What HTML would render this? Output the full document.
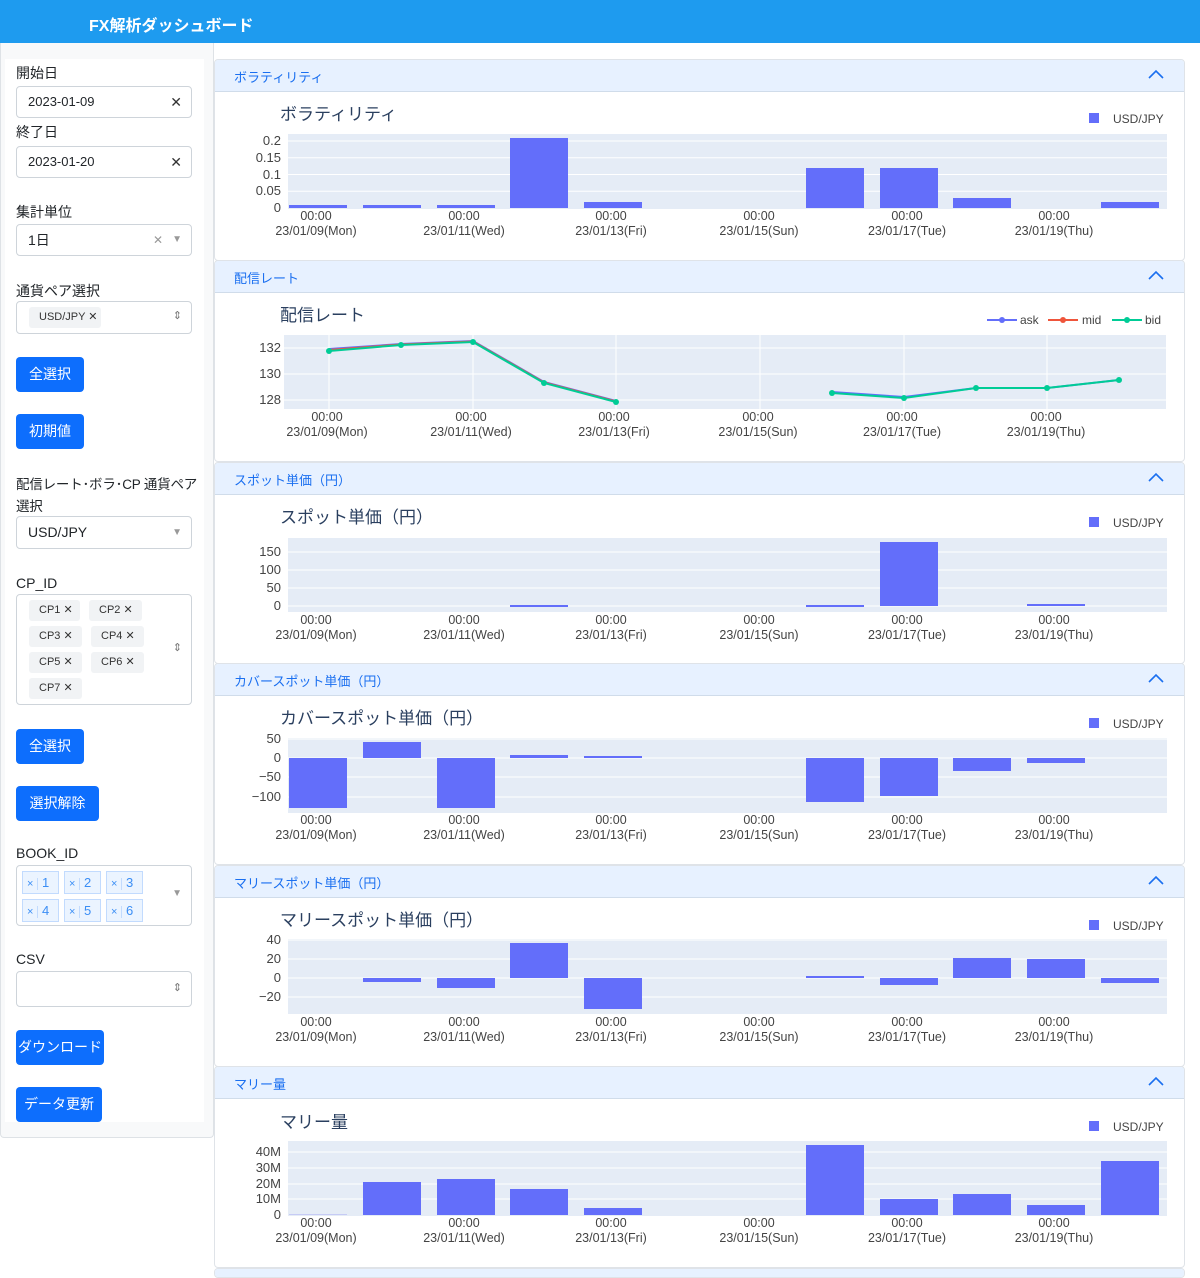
<!DOCTYPE html>
<html style="width:1200px;height:1278px;overflow:hidden"><head><meta charset="utf-8">
<style>
*{box-sizing:border-box;margin:0;padding:0}
body{width:1200px;height:1278px;position:relative;background:#fff;font-family:"Liberation Sans","Noto Sans CJK JP",sans-serif;overflow:hidden;color:#212529}
.hdr{position:absolute;left:0;top:0;width:1200px;height:43px;background:#1e9bef;color:#fff;font-size:16px;font-weight:bold;padding:12px 0 0 89px}
.side{position:absolute;left:0;top:43px;width:214px;height:1095px;background:#f8f9fa;border:1px solid #dee2e6;border-top:none;border-radius:0 0 4px 4px}
.sin{position:absolute;left:4px;top:16px;width:199px;height:1063px;background:#fff}
.lbl{position:absolute;left:16px;font-size:14px;color:#212529}
.inp{position:absolute;left:16px;width:176px;border:1px solid #ced4da;border-radius:4px;background:#fff;font-size:13px;padding-left:11px}
.x{position:absolute;right:9px;color:#333;font-size:14px}
.btn{position:absolute;left:16px;height:35px;background:#0d6efd;color:#fff;border-radius:4px;font-size:14px;text-align:center;line-height:35px}
.tag{position:absolute;height:21px;background:#f1f3f5;border-radius:3px;font-size:11px;line-height:21px;padding-left:10px;color:#333}
.bk{position:absolute;height:23px;border:1px solid #c2dbfe;background:#ebf4ff;color:#3b8ef5;font-size:13px;line-height:21px}
.card{position:absolute;left:214px;width:971px;height:202px;border:1px solid #dfe3e8;border-radius:4px;background:#fff;overflow:hidden}
.ch{height:32px;background:#e7f1ff;border-bottom:1px solid #d0dcea;color:#1a6ff0;font-size:13px;padding:7px 0 0 19px;position:relative}
.ch svg{position:absolute;right:20px;top:9px}
.card>svg{position:absolute;left:0;top:31px}
text{font-family:"Liberation Sans","Noto Sans CJK JP",sans-serif}
</style></head><body>
<div class="hdr">FX解析ダッシュボード</div>
<div class="side"><div class="sin"></div></div>

<div class="lbl" style="top:63px">開始日</div>
<div class="inp" style="top:86px;height:32px;line-height:30px">2023-01-09<span class="x">✕</span></div>
<div class="lbl" style="top:122px">終了日</div>
<div class="inp" style="top:146px;height:32px;line-height:30px">2023-01-20<span class="x">✕</span></div>
<div class="lbl" style="top:202px">集計単位</div>
<div class="inp" style="top:224px;height:32px;line-height:30px;font-size:14px">1日<span class="x" style="right:28px;color:#999;font-size:12px">✕</span><span class="x" style="color:#999;font-size:10px">▼</span></div>
<div class="lbl" style="top:281px">通貨ペア選択</div>
<div class="inp" style="top:301px;height:33px"><div class="tag" style="left:12px;top:5px;width:72px">USD/JPY ✕</div><span class="x" style="top:7px;color:#777;font-size:11px">⇕</span></div>
<div class="btn" style="top:357px;width:68px">全選択</div>
<div class="btn" style="top:414px;width:68px">初期値</div>
<div class="lbl" style="top:474px;line-height:22px;width:190px;font-size:13.5px;white-space:nowrap;letter-spacing:-0.2px">配信レート･ボラ･CP 通貨ペア<br>選択</div>
<div class="inp" style="top:516px;height:33px;line-height:31px;font-size:14px">USD/JPY<span class="x" style="color:#999;font-size:10px">▼</span></div>
<div class="lbl" style="top:575px">CP_ID</div>
<div class="inp" style="top:594px;height:111px">
<div class="tag" style="left:12px;top:5px;width:51px">CP1 ✕</div><div class="tag" style="left:72px;top:5px;width:53px">CP2 ✕</div>
<div class="tag" style="left:12px;top:31px;width:53px">CP3 ✕</div><div class="tag" style="left:74px;top:31px;width:53px">CP4 ✕</div>
<div class="tag" style="left:12px;top:57px;width:53px">CP5 ✕</div><div class="tag" style="left:74px;top:57px;width:53px">CP6 ✕</div>
<div class="tag" style="left:12px;top:83px;width:53px">CP7 ✕</div>
<span class="x" style="top:46px;color:#777;font-size:11px">⇕</span></div>
<div class="btn" style="top:729px;width:68px">全選択</div>
<div class="btn" style="top:786px;width:83px">選択解除</div>
<div class="lbl" style="top:845px">BOOK_ID</div>
<div class="inp" style="top:865px;height:61px">
<div class="bk" style="left:5px;top:5px;width:37px"><span style="padding:0 4px;border-right:1px solid #c2dbfe;font-size:11px">×</span> 1</div>
<div class="bk" style="left:47px;top:5px;width:37px"><span style="padding:0 4px;border-right:1px solid #c2dbfe;font-size:11px">×</span> 2</div>
<div class="bk" style="left:89px;top:5px;width:37px"><span style="padding:0 4px;border-right:1px solid #c2dbfe;font-size:11px">×</span> 3</div>
<div class="bk" style="left:5px;top:33px;width:37px"><span style="padding:0 4px;border-right:1px solid #c2dbfe;font-size:11px">×</span> 4</div>
<div class="bk" style="left:47px;top:33px;width:37px"><span style="padding:0 4px;border-right:1px solid #c2dbfe;font-size:11px">×</span> 5</div>
<div class="bk" style="left:89px;top:33px;width:37px"><span style="padding:0 4px;border-right:1px solid #c2dbfe;font-size:11px">×</span> 6</div>
<span class="x" style="top:22px;color:#999;font-size:10px">▼</span></div>
<div class="lbl" style="top:951px">CSV</div>
<div class="inp" style="top:971px;height:36px"><span class="x" style="top:9px;color:#777;font-size:11px">⇕</span></div>
<div class="btn" style="top:1030px;width:88px">ダウンロード</div>
<div class="btn" style="top:1087px;width:86px">データ更新</div>

<!-- Card 1 -->
<div class="card" style="top:59px"><div class="ch">ボラティリティ<svg width="16" height="10"><polyline points="1,9 8,2 15,9" fill="none" stroke="#1a6ff0" stroke-width="1.6"/></svg></div>
<svg width="971" height="170">
<text x="65" y="29" font-size="17" fill="#2a3f5f">ボラティリティ</text>
<rect x="874" y="22" width="10" height="10" fill="#636efa"/><text x="898" y="32" font-size="12" fill="#444">USD/JPY</text>
<rect x="73" y="43" width="879" height="75" fill="#e5ecf6"/>
<g stroke="#fff"><line x1="73" x2="952" y1="50" y2="50"/><line x1="73" x2="952" y1="66.75" y2="66.75"/><line x1="73" x2="952" y1="83.5" y2="83.5"/><line x1="73" x2="952" y1="100.25" y2="100.25"/></g>
<g fill="#636efa"><rect x="74" y="114" width="58" height="3"/><rect x="148" y="114" width="58" height="3"/><rect x="222" y="114" width="58" height="3"/><rect x="295" y="47" width="58" height="70"/><rect x="369" y="111" width="58" height="6"/><rect x="591" y="77" width="58" height="40"/><rect x="665" y="77" width="58" height="40"/><rect x="738" y="107" width="58" height="10"/><rect x="886" y="111" width="58" height="6"/></g>
<g font-size="13" fill="#444" text-anchor="end"><text x="66" y="54">0.2</text><text x="66" y="71">0.15</text><text x="66" y="88">0.1</text><text x="66" y="104">0.05</text><text x="66" y="121">0</text></g>
<g font-size="12.5" fill="#444" text-anchor="middle"><text x="101" y="129">00:00</text><text x="101" y="144">23/01/09(Mon)</text><text x="249" y="129">00:00</text><text x="249" y="144">23/01/11(Wed)</text><text x="396" y="129">00:00</text><text x="396" y="144">23/01/13(Fri)</text><text x="544" y="129">00:00</text><text x="544" y="144">23/01/15(Sun)</text><text x="692" y="129">00:00</text><text x="692" y="144">23/01/17(Tue)</text><text x="839" y="129">00:00</text><text x="839" y="144">23/01/19(Thu)</text></g>
</svg></div>

<!-- Card 2 -->
<div class="card" style="top:260px"><div class="ch">配信レート<svg width="16" height="10"><polyline points="1,9 8,2 15,9" fill="none" stroke="#1a6ff0" stroke-width="1.6"/></svg></div>
<svg width="971" height="170">
<text x="65" y="29" font-size="17" fill="#2a3f5f">配信レート</text>
<g stroke-width="2"><line x1="772" x2="802" y1="28" y2="28" stroke="#636efa"/><circle cx="787" cy="28" r="3" fill="#636efa"/><line x1="833" x2="863" y1="28" y2="28" stroke="#ef553b"/><circle cx="848" cy="28" r="3" fill="#ef553b"/><line x1="897" x2="927" y1="28" y2="28" stroke="#00cc96"/><circle cx="912" cy="28" r="3" fill="#00cc96"/></g>
<g font-size="12" fill="#444"><text x="805" y="32">ask</text><text x="867" y="32">mid</text><text x="930" y="32">bid</text></g>
<rect x="69" y="43" width="882" height="74" fill="#e5ecf6"/>
<g stroke="#fff"><line x1="69" x2="951" y1="56" y2="56"/><line x1="69" x2="951" y1="82" y2="82"/><line x1="69" x2="951" y1="108" y2="108"/><line x1="114" x2="114" y1="43" y2="117"/><line x1="258" x2="258" y1="43" y2="117"/><line x1="401" x2="401" y1="43" y2="117"/><line x1="545" x2="545" y1="43" y2="117"/><line x1="689" x2="689" y1="43" y2="117"/><line x1="832" x2="832" y1="43" y2="117"/></g>
<polyline points="114,57 186,52 258,49 329,90 401,109" fill="none" stroke="#636efa" stroke-width="2"/>
<polyline points="114,58 186,52.5 258,49.5 329,90.5 401,109.5" fill="none" stroke="#ef553b" stroke-width="2"/>
<polyline points="617,100 689,105 761,96 832,96 904,88" fill="none" stroke="#636efa" stroke-width="2"/>
<g fill="none" stroke="#00cc96" stroke-width="2"><polyline points="114,59 186,53 258,50 329,91 401,110"/><polyline points="617,101 689,106 761,96 832,96 904,88"/></g>
<g fill="#00cc96"><circle cx="114" cy="59" r="3"/><circle cx="186" cy="53" r="3"/><circle cx="258" cy="50" r="3"/><circle cx="329" cy="91" r="3"/><circle cx="401" cy="110" r="3"/><circle cx="617" cy="101" r="3"/><circle cx="689" cy="106" r="3"/><circle cx="761" cy="96" r="3"/><circle cx="832" cy="96" r="3"/><circle cx="904" cy="88" r="3"/></g>
<g font-size="13" fill="#444" text-anchor="end"><text x="66" y="60">132</text><text x="66" y="86">130</text><text x="66" y="112">128</text></g>
<g font-size="12.5" fill="#444" text-anchor="middle"><text x="112" y="129">00:00</text><text x="112" y="144">23/01/09(Mon)</text><text x="256" y="129">00:00</text><text x="256" y="144">23/01/11(Wed)</text><text x="399" y="129">00:00</text><text x="399" y="144">23/01/13(Fri)</text><text x="543" y="129">00:00</text><text x="543" y="144">23/01/15(Sun)</text><text x="687" y="129">00:00</text><text x="687" y="144">23/01/17(Tue)</text><text x="831" y="129">00:00</text><text x="831" y="144">23/01/19(Thu)</text></g>
</svg></div>

<!-- Card 3 -->
<div class="card" style="top:462px"><div class="ch">スポット単価（円）<svg width="16" height="10"><polyline points="1,9 8,2 15,9" fill="none" stroke="#1a6ff0" stroke-width="1.6"/></svg></div>
<svg width="971" height="170">
<text x="65" y="29" font-size="17" fill="#2a3f5f">スポット単価（円）</text>
<rect x="874" y="23" width="10" height="10" fill="#636efa"/><text x="898" y="33" font-size="12" fill="#444">USD/JPY</text>
<rect x="73" y="44" width="879" height="74" fill="#e5ecf6"/>
<g stroke="#fff"><line x1="73" x2="952" y1="58" y2="58"/><line x1="73" x2="952" y1="76" y2="76"/><line x1="73" x2="952" y1="94" y2="94"/><line x1="73" x2="952" y1="112" y2="112"/></g>
<g fill="#636efa"><rect x="295" y="111" width="58" height="2"/><rect x="591" y="111" width="58" height="2"/><rect x="665" y="48" width="58" height="64"/><rect x="812" y="110" width="58" height="2"/></g>
<g font-size="13" fill="#444" text-anchor="end"><text x="66" y="62">150</text><text x="66" y="80">100</text><text x="66" y="98">50</text><text x="66" y="116">0</text></g>
<g font-size="12.5" fill="#444" text-anchor="middle"><text x="101" y="130">00:00</text><text x="101" y="145">23/01/09(Mon)</text><text x="249" y="130">00:00</text><text x="249" y="145">23/01/11(Wed)</text><text x="396" y="130">00:00</text><text x="396" y="145">23/01/13(Fri)</text><text x="544" y="130">00:00</text><text x="544" y="145">23/01/15(Sun)</text><text x="692" y="130">00:00</text><text x="692" y="145">23/01/17(Tue)</text><text x="839" y="130">00:00</text><text x="839" y="145">23/01/19(Thu)</text></g>
</svg></div>

<!-- Card 4 -->
<div class="card" style="top:663px"><div class="ch">カバースポット単価（円）<svg width="16" height="10"><polyline points="1,9 8,2 15,9" fill="none" stroke="#1a6ff0" stroke-width="1.6"/></svg></div>
<svg width="971" height="170">
<text x="65" y="29" font-size="17" fill="#2a3f5f">カバースポット単価（円）</text>
<rect x="874" y="23" width="10" height="10" fill="#636efa"/><text x="898" y="33" font-size="12" fill="#444">USD/JPY</text>
<rect x="73" y="43" width="879" height="75" fill="#e5ecf6"/>
<g stroke="#fff"><line x1="73" x2="952" y1="44" y2="44"/><line x1="73" x2="952" y1="63" y2="63"/><line x1="73" x2="952" y1="82" y2="82"/><line x1="73" x2="952" y1="102" y2="102"/></g>
<g fill="#636efa"><rect x="74" y="63" width="58" height="50"/><rect x="148" y="47" width="58" height="16"/><rect x="222" y="63" width="58" height="50"/><rect x="295" y="60" width="58" height="3"/><rect x="369" y="61" width="58" height="2"/><rect x="591" y="63" width="58" height="44"/><rect x="665" y="63" width="58" height="38"/><rect x="738" y="63" width="58" height="13"/><rect x="812" y="63" width="58" height="5"/></g>
<g font-size="13" fill="#444" text-anchor="end"><text x="66" y="48">50</text><text x="66" y="67">0</text><text x="66" y="86">−50</text><text x="66" y="106">−100</text></g>
<g font-size="12.5" fill="#444" text-anchor="middle"><text x="101" y="129">00:00</text><text x="101" y="144">23/01/09(Mon)</text><text x="249" y="129">00:00</text><text x="249" y="144">23/01/11(Wed)</text><text x="396" y="129">00:00</text><text x="396" y="144">23/01/13(Fri)</text><text x="544" y="129">00:00</text><text x="544" y="144">23/01/15(Sun)</text><text x="692" y="129">00:00</text><text x="692" y="144">23/01/17(Tue)</text><text x="839" y="129">00:00</text><text x="839" y="144">23/01/19(Thu)</text></g>
</svg></div>

<!-- Card 5 -->
<div class="card" style="top:865px"><div class="ch">マリースポット単価（円）<svg width="16" height="10"><polyline points="1,9 8,2 15,9" fill="none" stroke="#1a6ff0" stroke-width="1.6"/></svg></div>
<svg width="971" height="170">
<text x="65" y="29" font-size="17" fill="#2a3f5f">マリースポット単価（円）</text>
<rect x="874" y="23" width="10" height="10" fill="#636efa"/><text x="898" y="33" font-size="12" fill="#444">USD/JPY</text>
<rect x="73" y="42" width="879" height="75" fill="#e5ecf6"/>
<g stroke="#fff"><line x1="73" x2="952" y1="43" y2="43"/><line x1="73" x2="952" y1="62" y2="62"/><line x1="73" x2="952" y1="81" y2="81"/><line x1="73" x2="952" y1="100" y2="100"/></g>
<g fill="#636efa"><rect x="148" y="81" width="58" height="4"/><rect x="222" y="81" width="58" height="10"/><rect x="295" y="46" width="58" height="35"/><rect x="369" y="81" width="58" height="31"/><rect x="591" y="79" width="58" height="2"/><rect x="665" y="81" width="58" height="7"/><rect x="738" y="61" width="58" height="20"/><rect x="812" y="62" width="58" height="19"/><rect x="886" y="81" width="58" height="5"/></g>
<g font-size="13" fill="#444" text-anchor="end"><text x="66" y="47">40</text><text x="66" y="66">20</text><text x="66" y="85">0</text><text x="66" y="104">−20</text></g>
<g font-size="12.5" fill="#444" text-anchor="middle"><text x="101" y="129">00:00</text><text x="101" y="144">23/01/09(Mon)</text><text x="249" y="129">00:00</text><text x="249" y="144">23/01/11(Wed)</text><text x="396" y="129">00:00</text><text x="396" y="144">23/01/13(Fri)</text><text x="544" y="129">00:00</text><text x="544" y="144">23/01/15(Sun)</text><text x="692" y="129">00:00</text><text x="692" y="144">23/01/17(Tue)</text><text x="839" y="129">00:00</text><text x="839" y="144">23/01/19(Thu)</text></g>
</svg></div>

<!-- Card 6 -->
<div class="card" style="top:1066px"><div class="ch">マリー量<svg width="16" height="10"><polyline points="1,9 8,2 15,9" fill="none" stroke="#1a6ff0" stroke-width="1.6"/></svg></div>
<svg width="971" height="170">
<text x="65" y="30" font-size="17" fill="#2a3f5f">マリー量</text>
<rect x="874" y="23" width="10" height="10" fill="#636efa"/><text x="898" y="33" font-size="12" fill="#444">USD/JPY</text>
<rect x="73" y="43" width="879" height="75" fill="#e5ecf6"/>
<g stroke="#fff"><line x1="73" x2="952" y1="54" y2="54"/><line x1="73" x2="952" y1="70" y2="70"/><line x1="73" x2="952" y1="86" y2="86"/><line x1="73" x2="952" y1="101" y2="101"/></g>
<g fill="#636efa"><rect x="74" y="116" width="58" height="1" fill="#c6cbf5"/><rect x="148" y="84" width="58" height="33"/><rect x="222" y="81" width="58" height="36"/><rect x="295" y="91" width="58" height="26"/><rect x="369" y="110" width="58" height="7"/><rect x="591" y="47" width="58" height="70"/><rect x="665" y="101" width="58" height="16"/><rect x="738" y="96" width="58" height="21"/><rect x="812" y="107" width="58" height="10"/><rect x="886" y="63" width="58" height="54"/></g>
<g font-size="13" fill="#444" text-anchor="end"><text x="66" y="58">40M</text><text x="66" y="74">30M</text><text x="66" y="90">20M</text><text x="66" y="105">10M</text><text x="66" y="121">0</text></g>
<g font-size="12.5" fill="#444" text-anchor="middle"><text x="101" y="129">00:00</text><text x="101" y="144">23/01/09(Mon)</text><text x="249" y="129">00:00</text><text x="249" y="144">23/01/11(Wed)</text><text x="396" y="129">00:00</text><text x="396" y="144">23/01/13(Fri)</text><text x="544" y="129">00:00</text><text x="544" y="144">23/01/15(Sun)</text><text x="692" y="129">00:00</text><text x="692" y="144">23/01/17(Tue)</text><text x="839" y="129">00:00</text><text x="839" y="144">23/01/19(Thu)</text></g>
</svg></div>

<div class="card" style="top:1268px;height:10px"><div class="ch">カバー取引損益（円）</div></div>
</body></html>
